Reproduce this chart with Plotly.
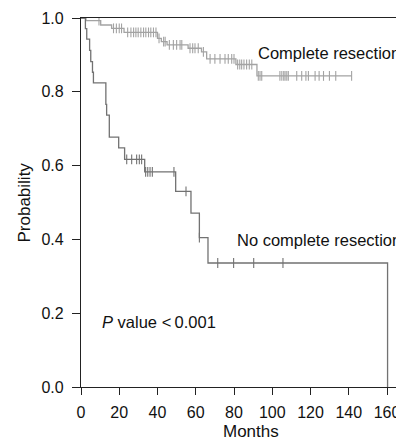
import plotly.graph_objects as go

# ---- Data ----
# Complete resection: step curve (event times, survival after step)
cr_times = [0, 2.6, 10.3, 16.0, 22.5, 40.0, 42.0, 45.0, 56.0, 63.0, 65.7, 81.0, 92.0, 141.5]
cr_surv  = [1.0, 0.993, 0.981, 0.972, 0.961, 0.945, 0.936, 0.927, 0.918, 0.908, 0.889, 0.874, 0.843, 0.843]
# Complete resection: censored observations (months)
cr_cens_t = [9.4, 17.0, 18.5, 20.0, 21.2, 24.4, 26.1, 27.5, 28.7, 29.9, 31.3, 32.7, 33.9, 35.3, 36.5, 37.9, 39.2,
             40.8, 43.2, 44.0, 46.2, 48.3, 50.0, 51.8, 52.7, 57.0, 58.4, 59.6, 61.3, 64.0,
             67.5, 70.0, 72.7, 75.3, 77.0, 78.8, 80.0, 81.9, 83.0, 84.0, 85.2, 86.6, 88.0, 89.3,
             92.7, 93.6, 94.5, 104.0, 105.0, 106.0, 106.7, 107.6, 108.4, 112.8, 115.4, 117.6, 118.9,
             122.4, 124.5, 126.8, 129.9, 133.2, 141.5]

# No complete resection: step curve
nc_times = [0, 2.3, 3.0, 4.5, 5.1, 6.0, 6.5, 13.0, 13.4, 14.8, 19.7, 22.8, 33.3, 49.5, 57.5, 61.9, 66.4, 160.3, 160.3]
nc_surv  = [1.0, 0.971, 0.943, 0.912, 0.882, 0.853, 0.824, 0.766, 0.737, 0.677, 0.648, 0.617, 0.583, 0.530, 0.471, 0.405, 0.336, 0.336, 0.0]
# No complete resection: censored observations (months)
nc_cens_t = [23.9, 26.5, 29.1, 30.5, 31.7, 33.8, 34.9, 36.1, 37.3, 48.6, 54.9, 61.9, 71.5, 79.8, 90.3, 105.6]

x_ticks = [0, 20, 40, 60, 80, 100, 120, 140, 160]
y_ticks = [0.0, 0.2, 0.4, 0.6, 0.8, 1.0]


def surv_at(times, surv, t):
    s = surv[0]
    for ti, si in zip(times, surv):
        if ti <= t:
            s = si
    return s


cr_cens_s = [surv_at(cr_times, cr_surv, t) for t in cr_cens_t]
nc_cens_s = [surv_at(nc_times[:-1], nc_surv[:-1], t) for t in nc_cens_t]

CR_COL = "#a3a3a3"
NC_COL = "#727272"
FONT = "Liberation Sans, Arial, Helvetica, sans-serif"

fig = go.Figure()
fig.add_trace(go.Scatter(x=cr_times, y=cr_surv, mode="lines", line=dict(shape="hv", color=CR_COL, width=1.3),
                         hoverinfo="skip"))
fig.add_trace(go.Scatter(x=cr_cens_t, y=cr_cens_s, mode="markers",
                         marker=dict(symbol="line-ns", size=7, line=dict(color=CR_COL, width=1.1)),
                         hoverinfo="skip"))
fig.add_trace(go.Scatter(x=nc_times, y=nc_surv, mode="lines", line=dict(shape="hv", color=NC_COL, width=1.3),
                         hoverinfo="skip"))
fig.add_trace(go.Scatter(x=nc_cens_t, y=nc_cens_s, mode="markers",
                         marker=dict(symbol="line-ns", size=7, line=dict(color=NC_COL, width=1.1)),
                         hoverinfo="skip"))

# The page body has an 8px margin, so the figure is sized to fill the rest of the window.
W, H = 396, 434
L, R, T, B = 73, 0, 10, 55
px_per_month = (387 - 81) / 160.0
x_max = (W - L) / px_per_month

fig.update_layout(
    width=W, height=H,
    margin=dict(l=L, r=R, t=T, b=B),
    paper_bgcolor="white", plot_bgcolor="white",
    showlegend=False,
    font=dict(family=FONT, size=16, color="#111111"),
    xaxis=dict(range=[0, x_max], tickvals=x_ticks, ticktext=[str(v) for v in x_ticks],
               automargin=False, ticklabelstandoff=4,
               showgrid=False, zeroline=False, showline=True, linecolor="#222222", linewidth=1.2,
               mirror=True, ticks="outside", ticklen=7, tickcolor="#222222", tickwidth=1.2,
               tickfont=dict(size=16)),
    yaxis=dict(range=[0, 1.0], tickvals=y_ticks, ticktext=["%.1f" % v for v in y_ticks],
               automargin=False, ticklabelstandoff=5,
               showgrid=False, zeroline=False, showline=True, linecolor="#222222", linewidth=1.2,
               ticks="outside", ticklen=8, tickcolor="#222222", tickwidth=1.2,
               tickfont=dict(size=16)),
    annotations=[
        dict(text="Months", xref="x", yref="paper", x=88.8, y=0, yshift=-44, showarrow=False,
             xanchor="center", yanchor="middle", font=dict(size=17)),
        dict(text="Probability", xref="paper", yref="paper", x=0, y=0.5, xshift=-57, textangle=-90,
             showarrow=False, xanchor="center", yanchor="middle", font=dict(size=17)),
        dict(text="Complete resection", xref="x", yref="y", x=91.3, y=0.906, showarrow=False,
             xanchor="left", yanchor="middle", font=dict(size=16.5)),
        dict(text="No complete resection", xref="x", yref="y", x=80.3, y=0.398, showarrow=False,
             xanchor="left", yanchor="middle", font=dict(size=16.5)),
        dict(text="<i>P</i> value &lt;\u20090.001", xref="x", yref="y", x=10.0, y=0.177, showarrow=False,
             xanchor="left", yanchor="middle", font=dict(size=16.5)),
    ],
)

fig.write_html("out.html")
